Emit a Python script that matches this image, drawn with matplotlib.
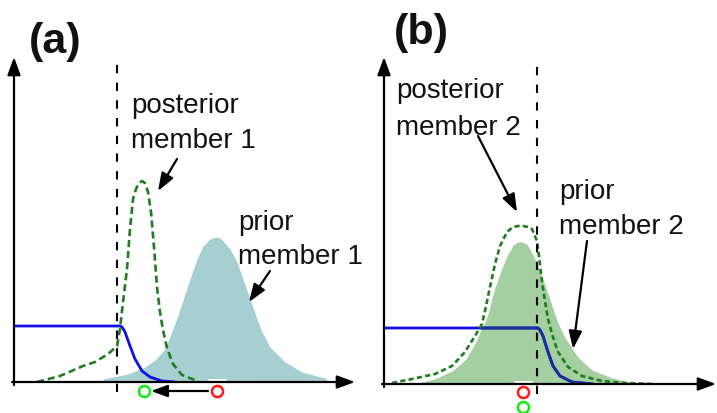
import matplotlib
matplotlib.use("Agg")
import matplotlib.pyplot as plt

plt.rcParams['font.family'] = ['Liberation Sans', 'DejaVu Sans']

W, H = 717, 414

# ---------------- data (pixel-scale units, x from y-axis, height above x-axis) ----------
# panel (a)
prior_a_x = [89, 114, 131, 141, 151, 157, 163, 169, 176, 183, 189, 196, 199, 203, 206, 209, 216,
             223, 229, 236, 243, 248, 256, 271, 288, 311, 314]
prior_a_h = [3, 8, 15, 22, 33, 48, 64, 82, 103, 123, 136, 143, 144, 145, 144, 141, 133,
             120, 103, 83, 63, 50, 35, 20, 10, 4, 1]
post_a_x = [23, 46, 69, 81, 94, 103, 106, 109, 113, 116, 119, 122, 125, 128, 131, 134, 137, 140, 143,
            146, 149, 153, 159, 168, 181, 184]
post_a_h = [0, 6, 16, 20, 28, 36, 53, 80, 113, 153, 183, 193, 199, 201, 199, 190, 170, 135, 95,
            70, 52, 34, 18, 7, 2, 0]
lik_a_x = [0, 106, 108, 111, 116, 121, 128, 136, 148, 161]
lik_a_h = [56, 56, 55, 50, 36, 23, 11, 5, 1, 0]
obs_a = 103            # dashed vertical (observation) position
mean_prior_a = 203     # prior mean (red circle)
mean_post_a = 130      # posterior mean (green circle)

# panel (b)
prior_b_x = [26, 51, 68, 81, 91, 96, 101, 104, 109, 116, 123, 129, 134, 138, 144, 151, 158, 166, 174,
             181, 194, 208, 228, 249, 253]
prior_b_h = [0, 6, 14, 25, 42, 54, 64, 73, 93, 113, 130, 140, 143, 143, 140, 127, 110, 87, 63,
             48, 28, 15, 7, 2, 0]
post_b_x = [8, 28, 51, 68, 81, 91, 98, 101, 106, 111, 116, 123, 129, 134, 139, 144, 148, 153, 155,
            158, 161, 164, 168, 174, 184, 198, 218, 241, 269]
post_b_h = [1, 5, 10, 18, 32, 48, 60, 73, 97, 120, 138, 152, 157, 158, 158, 157, 155, 143, 128,
            102, 83, 65, 50, 32, 17, 8, 3, 1, 0]
lik_b_x = [0, 154, 156, 159, 164, 169, 176, 188, 209]
lik_b_h = [56, 56, 54, 48, 32, 18, 8, 2, 0]
obs_b = 153
mean_prior_b = 139
mean_post_b = 139

TEAL = '#a5cfd1'
GFILL = '#a3cfa1'
DGREEN = '#1e7d1e'
BLUE = '#1010e6'
NAVY = '#1a2d98'
RED = '#ff1a1a'
LGREEN = '#11ee11'

fig = plt.figure(figsize=(W / 100, H / 100), dpi=100)


def make_ax(ox, oy, w, h):
    ax = fig.add_axes([ox / W, (H - oy) / H, w / W, h / H])
    ax.set_xlim(0, w)
    ax.set_ylim(0, h)
    ax.set_axis_off()
    return ax


def arrow(ax, tail, tip, lw=1.6, ms=12, hl=0.9, hw=0.33, z=6):
    ax.annotate('', xy=tip, xytext=tail,
                arrowprops=dict(arrowstyle='-|>,head_length=%g,head_width=%g' % (hl, hw),
                                lw=lw, color='black', mutation_scale=ms,
                                shrinkA=0, shrinkB=0),
                annotation_clip=False, zorder=z)


TXT = dict(fontsize=20, color='#111111', ha='left', va='baseline')

# ---------------- panel (a) ----------------
axa = make_ax(14, 383, 345, 330)
axa.fill_between(prior_a_x, 0, prior_a_h, color=TEAL, lw=0, zorder=1)
axa.plot(lik_a_x, lik_a_h, color=BLUE, lw=2.0, zorder=2, solid_capstyle='butt')
axa.plot(post_a_x, post_a_h, color=DGREEN, lw=1.9, dashes=(2.7, 1.5), zorder=3)
axa.plot([obs_a, obs_a], [-10, 323], color='black', lw=1.5, dashes=(4, 4.5), zorder=4, clip_on=False)
axa.plot([mean_prior_a - 9, mean_prior_a + 9], [2, 2], color='white', lw=2.2, zorder=3,
         solid_capstyle='butt')
arrow(axa, (-2, 0), (341, 0))
arrow(axa, (0, -3), (0, 325))
axa.plot([mean_prior_a], [-9], 'o', mfc='none', mec=RED, ms=8, mew=1.8, clip_on=False, zorder=6)
axa.plot([mean_post_a], [-9], 'o', mfc='none', mec=LGREEN, ms=8, mew=1.8, clip_on=False, zorder=6)
arrow(axa, (mean_prior_a - 9, -9), (mean_post_a + 7, -9), lw=1.6, ms=11)
axa.text(117, 270, 'posterior', **TXT)
axa.text(117, 235, 'member 1', **TXT)
arrow(axa, (163, 223), (144, 191))
axa.text(224, 153, 'prior', **TXT)
axa.text(224, 119, 'member 1', **TXT)
arrow(axa, (256, 111), (235, 80))
axa.text(41, 341, '(a)', fontsize=31, fontweight='bold', ha='center', va='center', color='#111111')

# ---------------- panel (b) ----------------
axb = make_ax(384, 385, 333, 330)
poly = axb.fill_between(prior_b_x, 0, prior_b_h, facecolor=GFILL, edgecolor='white', lw=1.2, zorder=1)
axb.plot(lik_b_x, lik_b_h, color=BLUE, lw=2.0, zorder=2, solid_capstyle='butt')
inner, = axb.plot(lik_b_x, lik_b_h, color=NAVY, lw=2.0, zorder=2.1, solid_capstyle='butt')
inner.set_clip_path(poly.get_paths()[0], axb.transData)
axb.plot(post_b_x, post_b_h, color=DGREEN, lw=1.9, dashes=(2.0, 1.2), zorder=3)
axb.plot([obs_b, obs_b], [-10, 322], color='black', lw=1.5, dashes=(4, 4.5), zorder=4, clip_on=False)
axb.plot([mean_prior_b - 9, mean_prior_b + 9], [2, 2], color='white', lw=2.2, zorder=3,
         solid_capstyle='butt')
arrow(axb, (-2, 0), (332, 0))
arrow(axb, (0, -3), (0, 327))
axb.plot([mean_prior_b], [-8], 'o', mfc='none', mec=RED, ms=8, mew=1.8, clip_on=False, zorder=6)
axb.plot([mean_post_b], [-23], 'o', mfc='none', mec=LGREEN, ms=8, mew=1.8, clip_on=False, zorder=6)
axb.text(12, 287, 'posterior', **TXT)
axb.text(12, 250, 'member 2', **TXT)
arrow(axb, (94, 248), (133, 172))
axb.text(175, 186, 'prior', **TXT)
axb.text(175, 151, 'member 2', **TXT)
arrow(axb, (203, 143), (189, 35))
axb.text(37, 352, '(b)', fontsize=31, fontweight='bold', ha='center', va='center', color='#111111')

fig.savefig('out.png', dpi=100)
